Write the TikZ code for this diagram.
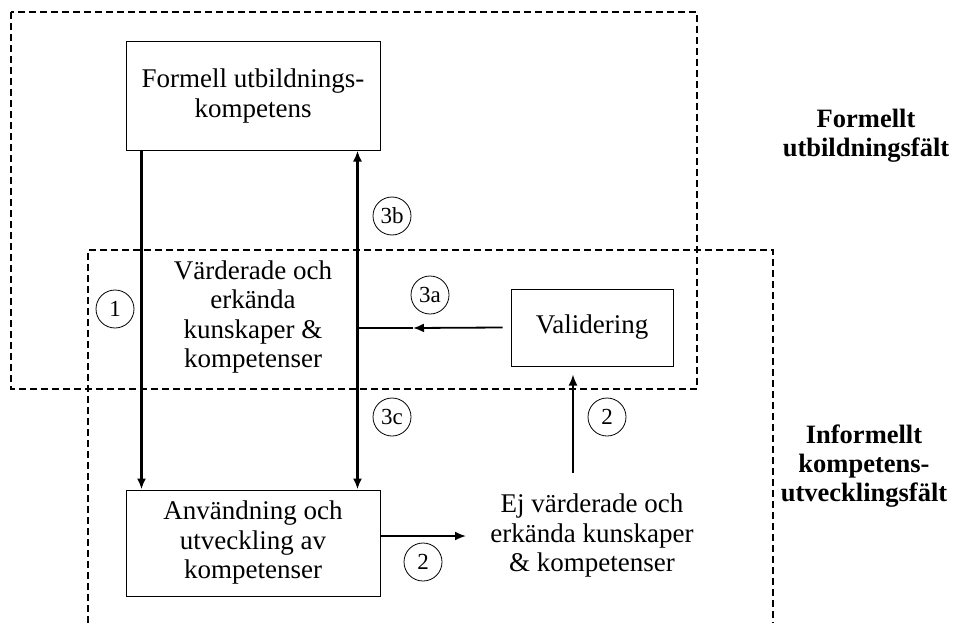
\documentclass[tikz,border=0pt]{standalone}
\usepackage{fontspec}
\setmainfont{Liberation Serif}
\usetikzlibrary{arrows.meta}
\tikzset{
  txt/.style={align=center, inner sep=0pt, font=\fontsize{27}{29.5}\selectfont},
  lbl/.style={align=center, inner sep=0pt, font=\fontsize{26.5}{29}\selectfont\bfseries},
  boxnode/.style={draw, line width=1pt, align=center, inner sep=0pt, font=\fontsize{27}{29.5}\selectfont},
  numc/.style={draw, circle, line width=0.8pt, minimum size=38pt, inner sep=0pt, font=\fontsize{23}{23}\selectfont},
  field/.style={line width=1.6pt, dash pattern=on 7pt off 4pt},
  flow/.style={line width=2.2pt, -{Latex[length=11pt,width=9pt]}},
  flowtwo/.style={line width=2.2pt, {Latex[length=11pt,width=9pt]}-{Latex[length=11pt,width=9pt]}},
  thinflow/.style={line width=1.8pt, -{Latex[length=11pt,width=9pt]}},
  plain/.style={line width=1.8pt}
}
\begin{document}
\begin{tikzpicture}[x=1pt,y=-1pt]
\useasboundingbox (0,0) rectangle (955,623);
% fields
\draw[field] (11,12) rectangle (697,389);
\draw[field] (88,623) -- (88,250) -- (773,250) -- (773,623);
% boxes
\node[boxnode, minimum width=254pt, minimum height=108pt] (F) at (253,96) {Formell utbildnings-\\kompetens};
\node[boxnode, minimum width=254pt, minimum height=106pt] (A) at (253,543) {Användning och\\utveckling av\\kompetenser};
\node[boxnode, minimum width=162pt, minimum height=77pt] (V) at (592,327.5) {Validering};
\node[txt] (K) at (253,317) {Värderade och\\erkända\\kunskaper \&\\kompetenser};
\node[txt] (E) at (592,536) {Ej värderade och\\erkända kunskaper\\\& kompetenser};
% labels
\node[lbl] (L1) at (866,136) {Formellt\\utbildningsfält};
\node[lbl] (L2) at (864,466) {Informellt\\kompetens-\\utvecklingsfält};
% arrows
\draw[flow] ([xshift=16pt]F.south west) -- ([xshift=16pt]A.north west);
\draw[flowtwo] ([xshift=-23pt]A.north east) -- ([xshift=-23pt]F.south east);
\coordinate (m) at (357,328);
\coordinate (tip) at (413,328);
\coordinate (e2) at (573,473);
\coordinate (e3) at (466,536);
\draw[thinflow] ([xshift=-8pt]V.west) -- (tip);
\draw[plain] (tip) -- (m);
\draw[thinflow] (e2) -- ([xshift=-19pt,yshift=-8pt]V.south);
\draw[thinflow] ([yshift=7pt]A.east) -- (e3);
% numbers
\node[numc] (n1) at (115,309) {1};
\node[numc] (n3b) at (392,216) {3b};
\node[numc] (n3a) at (430,295) {3a};
\node[numc] (n3c) at (392,417) {3c};
\node[numc] (n2a) at (423,562) {2};
\node[numc] (n2b) at (607,417) {2};
\end{tikzpicture}
\end{document}
